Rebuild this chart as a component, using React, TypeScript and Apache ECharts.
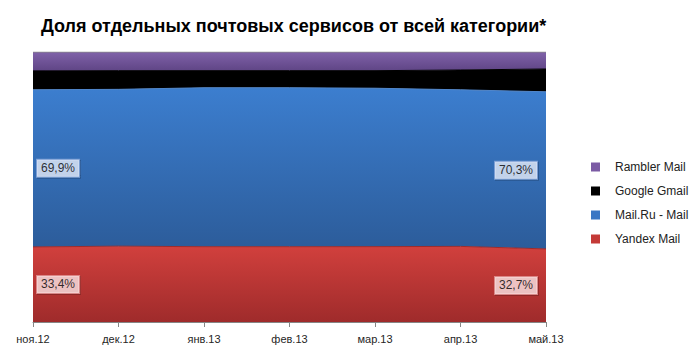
import React, { useEffect, useRef } from "react";
import * as echarts from "echarts";

const categories = ["ноя.12", "дек.12", "янв.13", "фев.13", "мар.13", "апр.13", "май.13"];
const yandex = [33.4, 33.7, 33.5, 33.5, 33.5, 33.6, 32.7];
const mailru = [69.9, 69.7, 70.7, 70.7, 70.4, 69.6, 70.3];
const gmail = [8.4, 8.3, 7.6, 7.6, 7.8, 8.8, 10.2];
const rambler = [8.4, 8.3, 8.3, 8.3, 8.3, 8.0, 7.6];
const seriesNames = ["Yandex Mail", "Mail.Ru - Mail", "Google Gmail", "Rambler Mail"];

const totals = categories.map((_, i) => yandex[i] + mailru[i] + gmail[i] + rambler[i]);
const pct = (arr: number[]) => arr.map((v, i) => (v / totals[i]) * 100);

const grad = (top: string, bottom: string) =>
  new echarts.graphic.LinearGradient(0, 0, 0, 1, [
    { offset: 0, color: top },
    { offset: 1, color: bottom },
  ]);

export default function App() {
  const ref = useRef<HTMLDivElement>(null);
  useEffect(() => {
    document.body.style.margin = "0";
    const chart = echarts.init(ref.current!, undefined, { renderer: "svg" });
    const pY = pct(yandex);
    const pM = pct(mailru);
    const pG = pct(gmail);
    const pR = pct(rambler);
    const last = categories.length - 1;
    const midM = (i: number) => pY[i] + pM[i] / 2;
    const midY = (i: number) => pY[i] / 2;
    const fmt = (v: number) => v.toFixed(1).replace(".", ",") + "%";
    const font = "Liberation Sans, Arial, sans-serif";

    const area = (name: string, data: number[], top: string, bottom: string, line: string, solid: string) => ({
      name,
      type: "line",
      stack: "total",
      data,
      symbol: "none",
      smooth: false,
      itemStyle: { color: solid },
      lineStyle: { width: 1, color: line },
      areaStyle: { color: grad(top, bottom), opacity: 1 },
      emphasis: { disabled: true },
    });

    const labelBox = (bg: string, border: string) => ({
      show: true,
      color: "#000",
      fontSize: 12,
      fontFamily: font,
      backgroundColor: bg,
      borderColor: border,
      borderWidth: 1,
      padding: [3, 4, 2, 4],
      shadowColor: "rgba(0,0,0,0.25)",
      shadowBlur: 1,
      shadowOffsetX: 1,
      shadowOffsetY: 1,
    });

    chart.setOption({
      animation: false,
      title: {
        text: "Доля отдельных почтовых сервисов от всей категории*",
        left: 36,
        top: 12,
        textStyle: { fontSize: 18, fontWeight: "bold", color: "#000", fontFamily: font },
      },
      grid: { left: 33, right: 153, top: 52, bottom: 34 },
      legend: {
        orient: "vertical",
        left: 586,
        top: 155,
        itemWidth: 9,
        itemHeight: 9,
        itemGap: 10,
        icon: "rect",
        textStyle: { fontSize: 12, color: "#222", fontFamily: font, lineHeight: 14, padding: [0, 0, 0, 10] },
        data: [
          { name: "Rambler Mail", itemStyle: { color: "#7b5ba4" } },
          { name: "Google Gmail", itemStyle: { color: "#000000" } },
          { name: "Mail.Ru - Mail", itemStyle: { color: "#3b77c4" } },
          { name: "Yandex Mail", itemStyle: { color: "#c43a37" } },
        ],
      },
      xAxis: {
        type: "category",
        data: categories,
        boundaryGap: false,
        axisLine: { lineStyle: { color: "#868686", width: 1 } },
        axisTick: { show: true, length: 5, lineStyle: { color: "#868686" } },
        axisLabel: { color: "#262626", fontSize: 11, fontFamily: font, margin: 11, showMaxLabel: true, showMinLabel: true, interval: 0 },
        splitLine: { show: false },
        z: 10,
      },
      yAxis: { type: "value", min: 0, max: 100, show: false, splitLine: { show: false } },
      series: [
        area(seriesNames[0], pY, "#d1403d", "#9f2b2b", "#9f2b2b", "#c43a37"),
        area(seriesNames[1], pM, "#3c7ecf", "#2c5c9a", "#4f86cc", "#3b77c4"),
        area(seriesNames[2], pG, "#000000", "#000000", "#000000", "#000000"),
        area(seriesNames[3], pR, "#8062a9", "#5f4585", "#8a8a8a", "#7b5ba4"),
        {
          type: "scatter",
          symbolSize: 0,
          silent: true,
          data: [
            { value: [0, midM(0)], label: { position: "right", distance: 4, formatter: fmt(mailru[0]) } },
            { value: [last, midM(last)], label: { position: "left", distance: 9, formatter: fmt(mailru[last]) } },
          ],
          label: labelBox("#e2ebfa", "#8caadc"),
          z: 20,
        },
        {
          type: "scatter",
          symbolSize: 0,
          silent: true,
          data: [
            { value: [0, midY(0)], label: { position: "right", distance: 4, formatter: fmt(yandex[0]) } },
            { value: [last, midY(last)], label: { position: "left", distance: 9, formatter: fmt(yandex[last]) } },
          ],
          label: labelBox("#fbe2e2", "#e39a9a"),
          z: 20,
        },
      ],
    });
    return () => chart.dispose();
  }, []);
  return <div ref={ref} style={{ width: 699, height: 356 }} />;
}
